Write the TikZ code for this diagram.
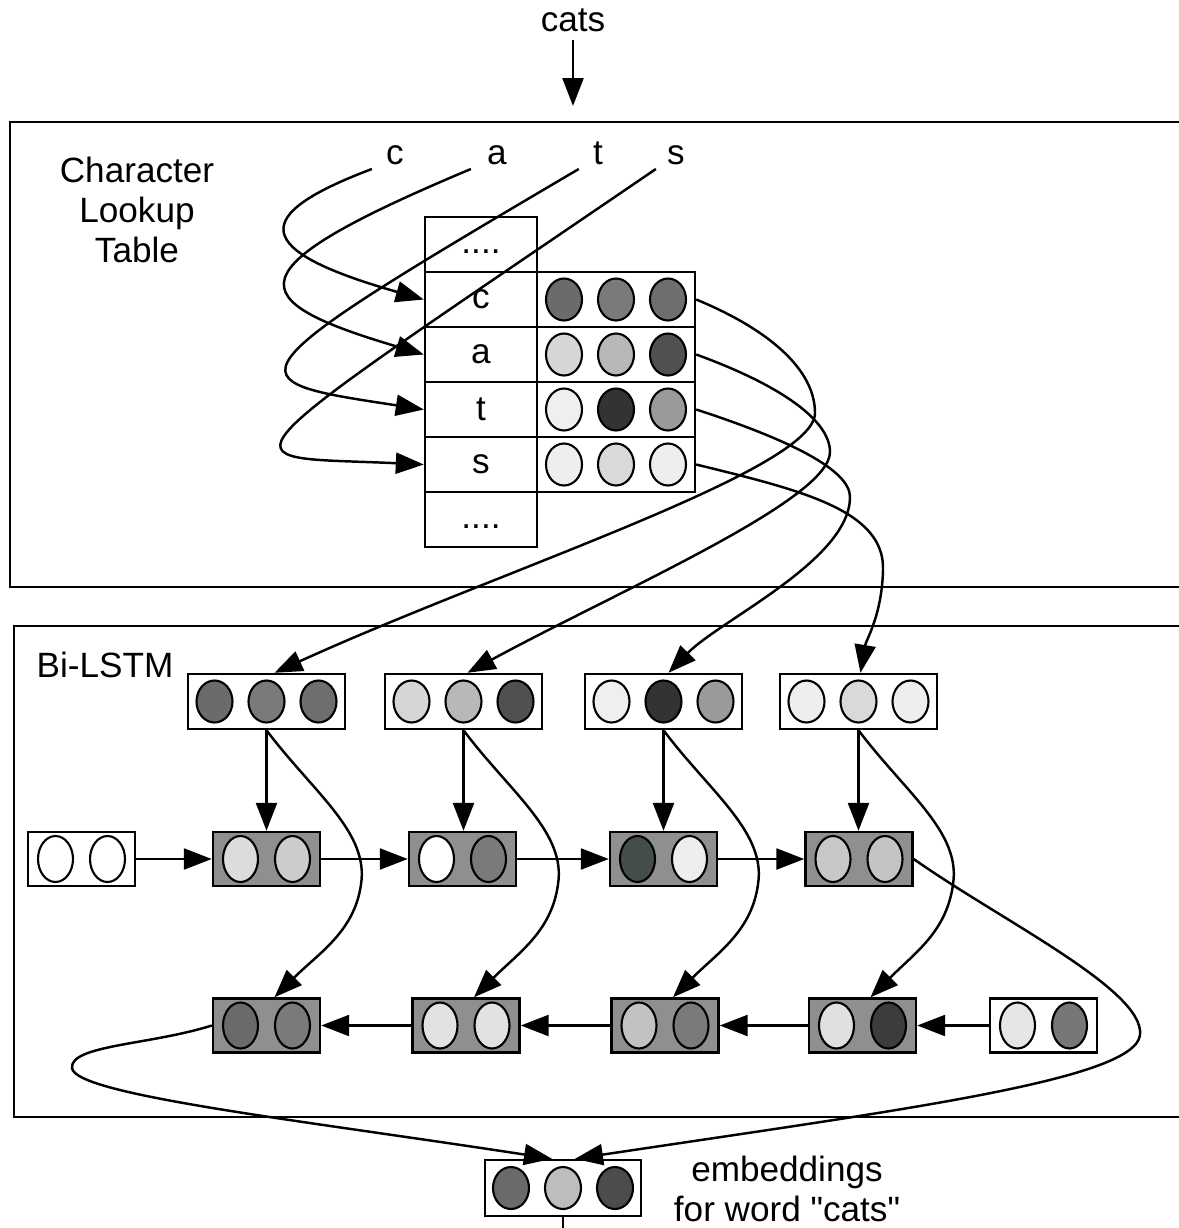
\documentclass[tikz,border=0pt]{standalone}
\usepackage{fontspec}
\setmainfont{Liberation Sans}
\newfontfamily\qfont{Liberation Sans}
\usetikzlibrary{shapes.geometric,arrows.meta,calc}
\definecolor{ca1}{HTML}{6B6B6B}\definecolor{ca2}{HTML}{7A7A7A}\definecolor{ca3}{HTML}{6E6E6E}
\definecolor{aa1}{HTML}{D6D6D6}\definecolor{aa2}{HTML}{B8B8B8}\definecolor{aa3}{HTML}{505050}
\definecolor{ta1}{HTML}{EFEFEF}\definecolor{ta2}{HTML}{333333}\definecolor{ta3}{HTML}{9A9A9A}
\definecolor{sa1}{HTML}{EEEEEE}\definecolor{sa2}{HTML}{D9D9D9}\definecolor{sa3}{HTML}{EEEEEE}
\definecolor{lstmgray}{HTML}{8F8F8F}
\definecolor{fa1}{HTML}{DCDCDC}\definecolor{fa2}{HTML}{CCCCCC}
\definecolor{fb1}{HTML}{FFFFFF}\definecolor{fb2}{HTML}{7A7A7A}
\definecolor{fc1}{HTML}{444C4C}\definecolor{fc2}{HTML}{EEEEEE}
\definecolor{fd1}{HTML}{C8C8C8}\definecolor{fd2}{HTML}{C4C4C4}
\definecolor{ba1}{HTML}{6A6A6A}\definecolor{ba2}{HTML}{7A7A7A}
\definecolor{bb1}{HTML}{E2E2E2}\definecolor{bb2}{HTML}{E2E2E2}
\definecolor{bc1}{HTML}{C2C2C2}\definecolor{bc2}{HTML}{7A7A7A}
\definecolor{bd1}{HTML}{E0E0E0}\definecolor{bd2}{HTML}{3C3C3C}
\definecolor{be1}{HTML}{E6E6E6}\definecolor{be2}{HTML}{777777}
\definecolor{ea1}{HTML}{6A6A6A}\definecolor{ea2}{HTML}{BDBDBD}\definecolor{ea3}{HTML}{4C4C4C}
\tikzset{
  lbl/.style={font=\fontsize{20}{22.7}\selectfont, inner sep=0pt},
  panel/.style={draw, line width=1.4pt, inner sep=0pt},
  cell/.style={draw, line width=1.4pt, minimum width=2.24cm, minimum height=1.1cm, inner sep=0pt, font=\fontsize{20}{22.7}\selectfont},
  vecbox/.style={draw, line width=1.4pt, fill=white, minimum width=3.14cm, minimum height=1.1cm, inner sep=0pt},
  lstm/.style={draw, line width=1.4pt, fill=lstmgray, minimum width=2.14cm, minimum height=1.08cm, inner sep=0pt},
  initbox/.style={draw, line width=1.4pt, fill=white, minimum width=2.14cm, minimum height=1.08cm, inner sep=0pt},
  dotv/.style={ellipse, draw, line width=1.2pt, minimum width=0.72cm, minimum height=0.84cm, inner sep=0pt},
  doth/.style={ellipse, draw, line width=1.2pt, minimum width=0.70cm, minimum height=0.92cm, inner sep=0pt},
  arr/.style={-{Triangle[length=0.56cm,width=0.42cm]}, line width=1.4pt},
  con/.style={line width=1.4pt}
}
\begin{document}
\begin{tikzpicture}[x=0.02cm,y=-0.02cm]
\clip (0,0) rectangle (1179,1228);
\fill[white] (0,0) rectangle (1179,1228);

% panels
\node[panel, minimum width=23.6cm, minimum height=9.3cm] (toppanel) at (600,354.5) {};
\node[panel, minimum width=23.52cm, minimum height=9.82cm] (lstmpanel) at (602,871.5) {};

% title input
\node[lbl, anchor=base] (cats) at (573,31) {cats};
\coordinate (catsend) at (573,106);
\draw[arr] ([yshift=-0.16cm]cats.south) -- (catsend);

\node[lbl, align=center] (cltxt) at (137,210) {Character\\Lookup\\Table};

% letters
\node[lbl, anchor=base] (lc) at (395,164) {c};
\node[lbl, anchor=base] (la) at (497,164) {a};
\node[lbl, anchor=base] (lt) at (598,164) {t};
\node[lbl, anchor=base] (ls) at (676,164) {s};

% lookup table
\node[cell] (td1) at (481,244.5) {\raisebox{-0.18cm}[0pt][0pt]{....}};
\node[cell] (tc) at (481,299.5) {c};
\node[cell] (ta) at (481,354.5) {a};
\node[cell] (tt) at (481,409.5) {t};
\node[cell] (ts) at (481,464.5) {s};
\node[cell] (td2) at (481,519.5) {\raisebox{-0.18cm}[0pt][0pt]{....}};
\foreach \n/\y/\p in {rc/299.5/ca, ra/354.5/aa, rt/409.5/ta, rs/464.5/sa}{
  \node[vecbox, minimum width=3.16cm] (\n) at (616,\y) {};
  \node[dotv, fill=\p1] (\n-1) at (564,\y) {};
  \node[dotv, fill=\p2] (\n-2) at (616,\y) {};
  \node[dotv, fill=\p3] (\n-3) at (668,\y) {};
}

% letter -> table
\draw[arr] ($(lc.base west)+(-14,5)$) .. controls (250,215) and (250,250) .. (tc.west);
\draw[arr] ($(la.base west)+(-16,5)$) .. controls (230,270) and (240,300) .. (ta.west);
\draw[arr] ($(lt.base west)+(-14,5)$) .. controls (220,380) and (230,380) .. (tt.west);
\draw[arr] ($(ls.base west)+(-11,5)$) .. controls (200,480) and (220,455) .. (ts.west);

% Bi-LSTM label
\node[lbl] (bilstm) at (105,665) {Bi-LSTM};

% input vectors
\foreach \n/\x/\p in {v1/266.5/ca, v2/463.5/aa, v3/663.5/ta, v4/858.5/sa}{
  \node[vecbox] (\n) at (\x,701.5) {};
  \node[dotv, fill=\p1] (\n-1) at (\x-52,701.5) {};
  \node[dotv, fill=\p2] (\n-2) at (\x,701.5) {};
  \node[dotv, fill=\p3] (\n-3) at (\x+52,701.5) {};
}

% table -> vectors
\draw[arr] (rc.east) .. controls (770,330) and (815,370) .. (815,413) .. controls (815,470) and (500,570) .. ($(v1.north)+(8,0)$);
\draw[arr] (ra.east) .. controls (780,385) and (830,420) .. (830,452) .. controls (830,500) and (620,590) .. ($(v2.north)+(4,0)$);
\draw[arr] (rt.east) .. controls (790,440) and (850,470) .. (850,497) .. controls (850,560) and (720,620) .. ($(v3.north)+(5,0)$);
\draw[arr] (rs.east) .. controls (800,490) and (885,510) .. (883,570) .. controls (882,615) and (866,640) .. ($(v4.north)+(2,0)$);

% forward row
\node[initbox] (fi0) at (81.5,859) {};
\node[doth, fill=white] (fi0-1) at (55.5,859) {};
\node[doth, fill=white] (fi0-2) at (107.5,859) {};
\foreach \n/\x/\p in {f1/266.5/fa, f2/462.5/fb, f3/663.5/fc, f4/859/fd}{
  \node[lstm] (\n) at (\x,859) {};
  \node[doth, fill=\p1] (\n-1) at (\x-26,859) {};
  \node[doth, fill=\p2] (\n-2) at (\x+26,859) {};
}
% backward row
\foreach \n/\x/\p in {b1/266.5/ba, b2/466/bb, b3/665/bc, b4/862.5/bd}{
  \node[lstm] (\n) at (\x,1025.5) {};
  \node[doth, fill=\p1] (\n-1) at (\x-26,1025.5) {};
  \node[doth, fill=\p2] (\n-2) at (\x+26,1025.5) {};
}
\node[initbox] (bi0) at (1043.5,1025.5) {};
\node[doth, fill=be1] (bi0-1) at (1017.5,1025.5) {};
\node[doth, fill=be2] (bi0-2) at (1069.5,1025.5) {};

% vertical arrows and curves
\foreach \i in {1,...,4}{
  \draw[arr] (v\i.south) -- (v\i.south |- f\i.north);
  \draw[arr] (v\i.south) .. controls +(45,60) and +(5,-50) .. ($(v\i.south)+(95,150)$) .. controls +(-5,50) and +(45,-45) .. ($(b\i.north)+(8,0)$);
}
% horizontal arrows
\draw[arr] (fi0.east) -- (f1.west);
\draw[arr] (f1.east) -- (f2.west);
\draw[arr] (f2.east) -- (f3.west);
\draw[arr] (f3.east) -- (f4.west);
\draw[arr] (bi0.west) -- (b4.east);
\draw[arr] (b4.west) -- (b3.east);
\draw[arr] (b3.west) -- (b2.east);
\draw[arr] (b2.west) -- (b1.east);

% embedding output
\node[vecbox, minimum width=3.12cm, minimum height=1.12cm] (emb) at (563,1188) {};
\node[dotv, fill=ea1] (emb-1) at (511,1188) {};
\node[dotv, fill=ea2] (emb-2) at (563,1188) {};
\node[dotv, fill=ea3] (emb-3) at (615,1188) {};
\node[lbl, align=center] (embtxt) at (787,1189) {embeddings\\for word {\qfont "cats"}};

\draw[arr] (f4.east) .. controls (1000,920) and (1145,990) .. (1140,1035) .. controls (1135,1080) and (900,1110) .. ($(emb.north)+(12,0)$);
\draw[arr] (b1.west) .. controls (150,1045) and (70,1045) .. (72,1068) .. controls (75,1095) and (300,1120) .. ($(emb.north)+(-11,0)$);

\coordinate (embout) at (563,1245);
\draw[con] (emb.south) -- (embout);
\end{tikzpicture}
\end{document}
